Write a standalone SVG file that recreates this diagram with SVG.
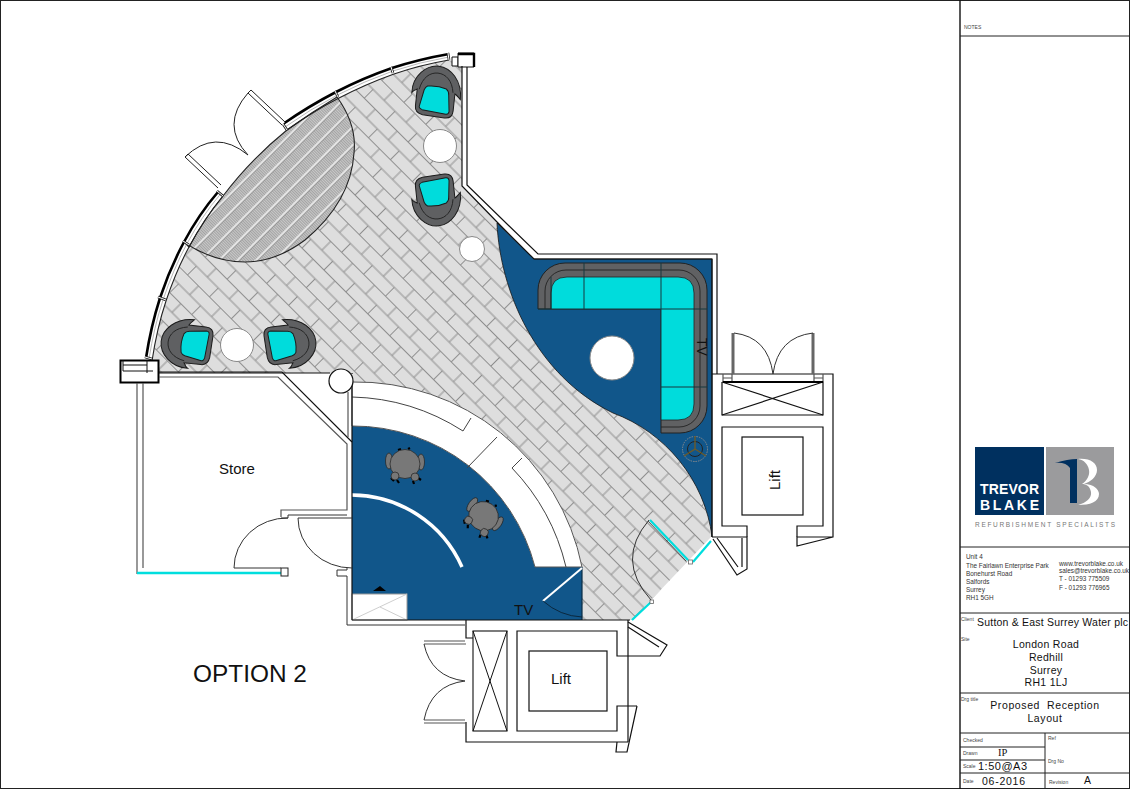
<svg xmlns="http://www.w3.org/2000/svg" width="1130" height="789" viewBox="0 0 1130 789">
<style>
text{font-family:"Liberation Sans",Arial,sans-serif;fill:#111}
.w{fill:none;stroke:#111;stroke-width:1.2}
.g{fill:none;stroke:#555;stroke-width:1.2}
.o{fill:none;stroke:#000;stroke-width:2.6}
.t{font-size:5px;fill:#444}
.a{font-size:6.400px;fill:#333}
.m{font-size:10.500px;text-anchor:middle;letter-spacing:.3px}
.l{font-size:15px}
</style>
<defs>
<pattern id="brick" width="31" height="25" patternUnits="userSpaceOnUse" patternTransform="translate(150,60) rotate(45)">
<rect width="31" height="25" fill="#dedede"/>
<path d="M0,.5H31M0,13H31M8,0V13M23.500,13V25" fill="none" stroke="#8f8f8f" stroke-width="1"/>
</pattern>
<pattern id="hatch" width="13" height="2" patternUnits="userSpaceOnUse" patternTransform="rotate(45)">
<rect width="13" height="2" fill="#c8c8c8"/>
<rect width="13" height="1" fill="#a4a4a4"/>
<rect x="0" width="2.200" height="2" fill="#e4e4e4"/>
<rect x="2.200" width=".6" height="2" fill="#808080"/>
</pattern>
<g id="lounge">
<path d="M-24,3C-25,-14 -12,-26 0,-26C12,-26 25,-14 25,5C23,3 21,1 19,0L19,17Q19,25 11,25L-11,24Q-19,23 -19,16L-19,-1C-21,0 -23,1 -24,3Z" fill="#5f6062" stroke="#1c1c1c" stroke-width="1"/>
<path d="M-17,-1C-15,-13 -8,-19 0,-19C8,-19 15,-13 17,-1" fill="none" stroke="#222" stroke-width=".9"/>
<path d="M-9,-5Q1,-7 10,-4Q13,-2 13,2L15,18Q15,21 12,21L-12,19Q-16,18 -15,15L-12,-1Q-11,-4 -9,-5Z" fill="#00dcdc" stroke="#1c1c1c" stroke-width="1"/>
</g>
<g id="task">
<path d="M-14,13l3,3M-8,15l2,3M8,16l1,3M13,13l3,2M-7,-15l3,-1M3,-16l2,-1" stroke="#000" stroke-width="2.200" fill="none"/>
<ellipse cx="-16" cy="-4" rx="3.500" ry="8" fill="#777" stroke="#222" stroke-width=".7"/>
<ellipse cx="16" cy="-3" rx="3.500" ry="8" fill="#777" stroke="#222" stroke-width=".7"/>
<ellipse cx="0" cy="-1" rx="15" ry="14.500" fill="#787878" stroke="#222" stroke-width=".7"/>
<ellipse cx="-10" cy="11" rx="4" ry="4" fill="#777" stroke="#222" stroke-width=".7"/>
<ellipse cx="10" cy="12" rx="4" ry="4" fill="#777" stroke="#222" stroke-width=".7"/>
</g>
</defs>
<rect width="1130" height="789" fill="#fff"/>
<rect x=".5" y=".5" width="1129" height="788" fill="none" stroke="#222" stroke-width="1"/>

<!-- floor -->
<path d="M152,361Q157,328 166,301Q176,271 189,247Q204,219 223,196Q250,160 287,130Q312,112 339,98Q366,84 394,74Q420,65 449,60L462,64V186L497,223C500,290 535,375 613,413C665,432 705,480 711,537L632,620H582V567A230,230 0 0 0 352,382V373H159V361Z" fill="url(#brick)"/>
<path d="M337,97C350,115 356,135 354,153C352,185 335,215 305,240C285,255 265,262 245,262C225,262 205,256 185,243L189,247Q204,219 223,196Q250,160 287,130Q312,112 337,97Z" fill="url(#hatch)" stroke="#222" stroke-width="1.100"/>

<!-- blue carpets -->
<path d="M497,223L534,259H712V537C705,480 665,432 613,413C535,375 500,290 497,223Z" fill="#11568a" stroke="#111" stroke-width=".8"/>
<path d="M352,426V620H582V567H535A188,188 0 0 0 352,426Z" fill="#11568a"/>
<path d="M352,382A230,230 0 0 1 582,567H535A188,188 0 0 0 352,426Z" fill="#fff" stroke="#555" stroke-width="1"/>
<path d="M352,397A215,215 0 0 1 463,431L471,418M566,567A215,215 0 0 0 512,468L522,458M467,468L497,437" fill="none" stroke="#444" stroke-width="1"/>
<path d="M352,495A121,121 0 0 1 462,567" fill="none" stroke="#fff" stroke-width="3.500"/>
<path d="M582,567V620" stroke="#0b2c44" stroke-width="1.200"/>
<path d="M543,601L582,568" stroke="#fff" stroke-width="2"/>
<path d="M543,601Q560,616 582,617" fill="none" stroke="#0a2236" stroke-width=".9"/>
<rect x="352" y="594" width="55" height="26" fill="#fff" stroke="#999" stroke-width="1"/>
<path d="M352,620L407,594M380,607L407,620" stroke="#c8c8c8" stroke-width=".9" fill="none"/>
<path d="M373,591L380,586L386,591Z" fill="#000"/>
<use href="#task" transform="translate(405,465)"/>
<use href="#task" transform="translate(483,517) rotate(35)"/>

<!-- sofa -->
<path d="M538,309V290A27,27 0 0 1 565,263H680A27,27 0 0 1 707,290V406A27,27 0 0 1 680,433H661V309Z" fill="#606163" stroke="#222" stroke-width="1"/>
<path d="M551,309V293Q551,277 567,277H678Q694,277 694,293V404Q694,420 678,420H661V309Z" fill="#00dcdc"/>
<path d="M545,309V291A21,21 0 0 1 566,270H679A21,21 0 0 1 700,291V406A21,21 0 0 1 679,427H661" fill="none" stroke="#222" stroke-width=".9"/>
<path d="M584,263V309M661,263V309M538,309H707M661,387H707M551,277V309M661,309V420" fill="none" stroke="#16383f" stroke-width="1"/>
<path d="M551,309V293Q551,277 567,277H678Q694,277 694,293V404Q694,420 678,420H661" fill="none" stroke="#222" stroke-width=".8"/>
<text transform="translate(697,338) rotate(90)" font-size="14">TV</text>
<circle cx="612" cy="358" r="22" fill="#fff" stroke="#888" stroke-width="1"/>
<g fill="none">
<circle cx="695" cy="449" r="12.500" stroke="#8a8a8a" stroke-width="1" stroke-dasharray="1.500 1"/>
<circle cx="695" cy="449" r="7.500" stroke="#222" stroke-width="1"/>
<path d="M695,436V449L684,456M695,449L706,456" stroke="#6b5a2a" stroke-width="1.400"/>
</g>

<!-- lounge seating -->
<circle cx="440" cy="146" r="16.500" fill="#fff" stroke="#888"/>
<circle cx="472" cy="249" r="12.500" fill="#fff" stroke="#888"/>
<circle cx="237" cy="345" r="16.500" fill="#fff" stroke="#888"/>
<use href="#lounge" transform="translate(436,92) rotate(6)"/>
<use href="#lounge" transform="translate(436,200) scale(1,-1) rotate(6)"/>
<use href="#lounge" transform="translate(187,344) rotate(-84)"/>
<use href="#lounge" transform="translate(290,344) scale(-1,1) rotate(-84)"/>

<!-- curved glazing -->
<path class="o" d="M146,358Q151,326 160,298Q170,268 184,242Q199,214 218,192M283,124Q309,106 336,92Q363,78 392,68Q420,59 449,54"/>
<path d="M152,361Q157,328 166,301Q176,271 189,247Q204,219 223,196M287,130Q312,112 339,98Q366,84 394,74Q420,65 449,60" fill="none" stroke="#222" stroke-width="1.100"/>
<path d="M149,359Q154,327 163,300Q173,270 186.500,244.500Q201.500,216.500 220.500,194M285,127Q310.500,109 337.500,95Q364.500,81 393,71Q420,62 449,57" fill="none" stroke="#999" stroke-width=".7"/>
<path d="M145,357l7,2M158,297l8,3M183,241l6,4M217,191l6,5M283,124l4,6M335,91l3,6M391,67l2,6M448,53l1,7" fill="none" stroke="#222" stroke-width="2.600"/>
<path d="M145,357l7,2M158,297l8,3M183,241l6,4M217,191l6,5M283,124l4,6M335,91l3,6M391,67l2,6M448,53l1,7" fill="none" stroke="#fff" stroke-width="1"/>
<!-- entrance doors -->
<path d="M218,188L185,157L188,154L221,185M282,125L248,93L251,90L285,122" fill="#fff" stroke="#222" stroke-width="1"/>
<path d="M248,93Q220,125 248,155M185,157Q215,128 248,155" fill="none" stroke="#222" stroke-width="1"/>

<!-- pillars -->
<rect x="120.500" y="360.500" width="38" height="22" fill="#fff" stroke="#000" stroke-width="2"/>
<path d="M123,365H147M123,371H153M147,360V373M123,360V371" fill="none" stroke="#111" stroke-width="1"/>
<path d="M452,57H458V66H452Z" fill="#fff" stroke="#111"/>
<path d="M458,53H474V67H458Z" fill="#fff" stroke="#111"/>
<path d="M458,54H474V67" fill="none" stroke="#000" stroke-width="2.400"/>

<!-- walls -->
<path class="w" d="M467,67V185L538,254H717V374"/>
<path class="w" d="M462,66V186L497,222L534,259H712V537"/>
<path d="M159,373H330M352,373V374" class="w" stroke-width="1.400"/>
<path class="g" d="M159,377H278L347,444V510H281V517M137,383V574M143,383V568"/>
<path class="w" d="M159,372H282L352,442"/>
<path class="w" d="M352,382V620"/>
<path class="g" d="M348,392V437"/>
<circle cx="341" cy="381" r="12" fill="#fff" stroke="#111" stroke-width="1.200"/>
<path d="M137,573H282" stroke="#00dede" stroke-width="2.400"/>
<rect x="281" y="568" width="7" height="8" fill="#fff" stroke="#222"/>
<path d="M288,518V515H347M288,518H281M234,568H281M234,568A53,50 0 0 1 288,518" fill="none" stroke="#333" stroke-width="1"/>
<path d="M298,518H352M298,518A54,50 0 0 0 352,568M347,568V570H337V576H347V625H465" fill="none" stroke="#333" stroke-width="1"/>

<!-- bottom lift -->
<path class="w" d="M352,620H630"/>
<path class="w" d="M466,620V638H473M466,722V742H628"/>
<rect x="473" y="631" width="34" height="100" fill="none" stroke="#111" stroke-width="1.100"/>
<path d="M473,631L507,731M507,631L473,731" stroke="#111" stroke-width="1"/>
<path class="w" d="M637,706H617V731H517V631H617V656H628V706M628,620V742"/>
<rect x="529" y="651" width="78" height="60" fill="none" stroke="#111" stroke-width="1.200"/>
<text class="l" x="551" y="684">Lift</text>
<path class="g" d="M424,641H465M424,644H466M424,720H465M424,723H466"/>
<path d="M424,644Q431,677 465,681M424,720Q431,685 465,681" fill="none" stroke="#333" stroke-width="1"/>
<path class="w" d="M628,622L667,645L660,656H628M637,706L627,752L616,752L617,742M659,647L628,627"/>

<!-- right lift -->
<path class="w" d="M712,374H833V537H797V546L833,537M712,537H747V569L737,575L713,539M742,538V567M717,538L738,567"/>
<path class="w" d="M723,382H823V415H722V382"/>
<path class="w" d="M722,382L823,415M823,382L722,415"/>
<path class="w" d="M747,537V526H722V427H823V526H797V537"/>
<rect x="742" y="437" width="61" height="78" fill="none" stroke="#111" stroke-width="1.200"/>
<text class="l" transform="translate(780,490) rotate(-90)">Lift</text>
<path d="M733,333V374M813,333V374" stroke="#666" stroke-width="3" fill="none"/>
<path d="M734,333Q768,337 773,374M813,333Q778,337 773,374" fill="none" stroke="#333" stroke-width="1"/>
<path class="g" d="M723,374V382M732,374V382M814,374V382M823,374V382M723,378H732M814,378H823"/>
<path d="M723,382H823" stroke="#000" stroke-width="1.800"/>

<!-- front door -->
<path d="M650,520L688,560M693,562L711,541M651,602L632,620" stroke="#00dede" stroke-width="2.200"/>
<path d="M648,521L686,561" stroke="#333" stroke-width=".8"/>
<rect x="688.500" y="560" width="4" height="4" fill="#fff" stroke="#666" stroke-width=".8"/>
<rect x="650" y="600" width="3.500" height="3.500" fill="#fff" stroke="#666" stroke-width=".8"/>
<path d="M649,520Q615,560 651,600" fill="none" stroke="#333" stroke-width="1"/>

<!-- labels -->
<text class="l" x="219" y="474">Store</text>
<text class="l" x="514" y="615">TV</text>
<text x="193" y="682" font-size="24.400">OPTION 2</text>

<!-- title block -->
<path d="M960,0V789" stroke="#111" stroke-width="1.400"/>
<path d="M960,36H1130M960,547H1130M960,613H1130M960,693H1130M960,733H1130M960,747H1045M960,760H1045M960,773H1130M1045,733V789" fill="none" stroke="#222" stroke-width="1"/>
<text class="t" x="964" y="29">NOTES</text>
<rect x="975" y="447" width="69" height="68" fill="#00305f"/>
<rect x="1046" y="447" width="68" height="68" fill="#9b9b9d"/>
<path d="M1055,463Q1068,459 1077,459V503H1070V468Q1066,462 1055,463Z" fill="#00305f"/>
<path d="M1078,459C1090,458 1097,463 1097,470C1097,477 1090,482 1084,484C1094,484 1099,490 1099,494C1099,502 1090,505 1078,505C1086,503 1092,498 1091,492C1090,486 1086,484 1082,484C1087,481 1090,475 1089,470C1088,464 1084,460 1078,459Z" fill="#fff"/>
<text x="980" y="494" font-size="14" font-weight="bold" style="fill:#fff" textLength="59" lengthAdjust="spacing">TREVOR</text>
<text x="980" y="510" font-size="14" font-weight="bold" style="fill:#fff" textLength="59" lengthAdjust="spacing">BLAKE</text>
<text x="975" y="527" font-size="6.500" style="fill:#777" textLength="140" lengthAdjust="spacing">REFURBISHMENT SPECIALISTS</text>
<text class="a" x="966" y="559">Unit 4</text>
<text class="a" x="966" y="568">The Fairlawn Enterprise Park</text>
<text class="a" x="966" y="576">Bonehurst Road</text>
<text class="a" x="966" y="584">Salfords</text>
<text class="a" x="966" y="592">Surrey</text>
<text class="a" x="966" y="600">RH1 5GH</text>
<text class="a" x="1059" y="566">www.trevorblake.co.uk</text>
<text class="a" x="1059" y="573">sales@trevorblake.co.uk</text>
<text class="a" x="1059" y="581">T - 01293 775509</text>
<text class="a" x="1059" y="590">F - 01293 776965</text>
<text class="t" x="961" y="621">Client</text>
<text x="977" y="626" font-size="10.500" textLength="151" lengthAdjust="spacing">Sutton &amp; East Surrey Water plc</text>
<text class="t" x="961" y="641">Site</text>
<text class="m" x="1046" y="648">London Road</text>
<text class="m" x="1046" y="661">Redhill</text>
<text class="m" x="1046" y="674">Surrey</text>
<text class="m" x="1046" y="686">RH1 1LJ</text>
<text class="t" x="961" y="701">Drg title</text>
<text class="m" x="1045" y="709" xml:space="preserve" style="letter-spacing:.6px">Proposed  Reception</text>
<text class="m" x="1045" y="722" style="letter-spacing:.6px">Layout</text>
<text class="t" x="963" y="742">Checked</text>
<text class="t" x="1048" y="740">Ref</text>
<text class="t" x="963" y="755">Drawn</text>
<text x="998" y="756" font-size="10.500" style="font-family:'Liberation Serif',serif">IP</text>
<text class="t" x="963" y="768">Scale</text>
<text x="978" y="770" font-size="11" textLength="49" lengthAdjust="spacing">1:50@A3</text>
<text class="t" x="1048" y="763">Drg No</text>
<text class="t" x="963" y="783">Date</text>
<text x="982" y="785" font-size="10.500" textLength="43" lengthAdjust="spacing">06-2016</text>
<text class="t" x="1049" y="784">Revision</text>
<text x="1084" y="784" font-size="10.500">A</text>
</svg>
